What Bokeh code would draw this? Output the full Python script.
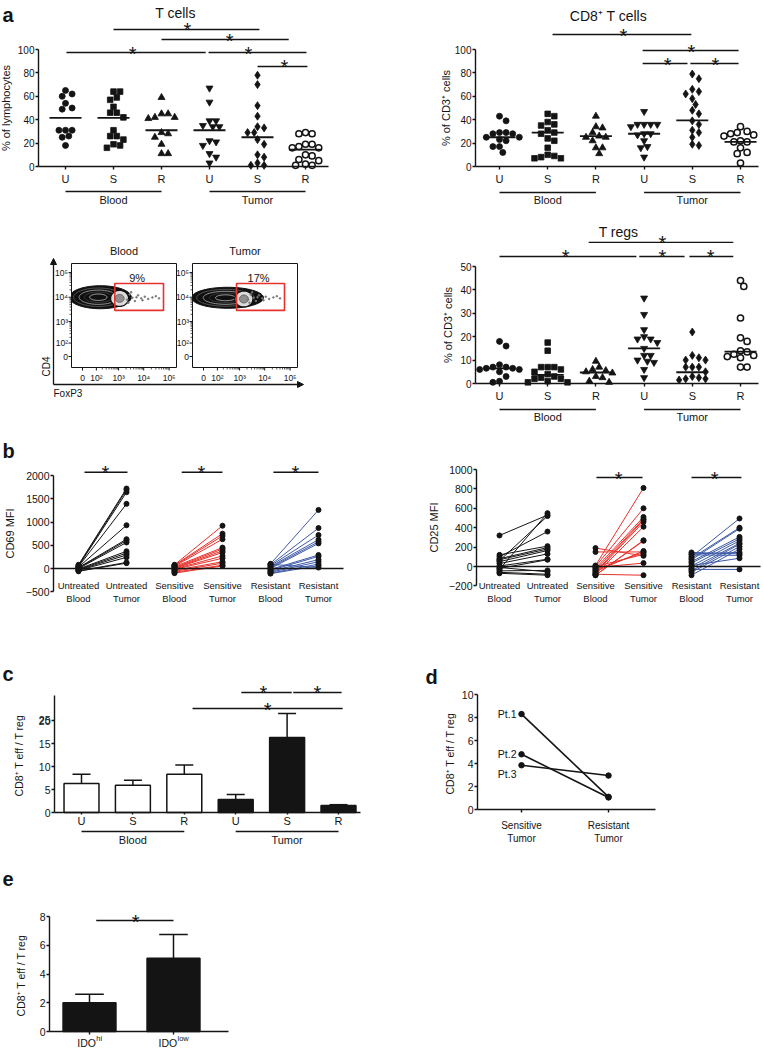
import numpy as np
from bokeh.plotting import figure
from bokeh.models import Range1d, LinearAxis, FixedTicker, Arrow, NormalHead
from bokeh.layouts import row, column
from bokeh.core.properties import value
from bokeh.embed import file_html
from bokeh.resources import INLINE

FONT = "Liberation Sans"
INK = "#141414"
RED = "#e8322c"
BLUE = "#3d5aa8"

# ======================= DATA =======================
a_labels = ["U", "S", "R", "U", "S", "R"]
a_sites = ["Blood", "Tumor"]

tcells_blood_U = [65, 62, 60, 54, 50, 49, 31, 31, 31, 26, 25, 18]
tcells_blood_S = [64, 64, 59, 57, 51, 46, 46, 42, 31, 26, 26, 23, 19, 18, 16]
tcells_blood_R = [59, 45, 45, 42, 42, 41, 29, 28, 25, 19, 11, 11]
tcells_tumor_U = [67, 55, 39, 39, 35, 34, 34, 22, 21, 18, 11, 8, 3]
tcells_tumor_S = [78, 70, 52, 43, 34, 33, 29, 29, 23, 19, 10, 8, 3, 1, 1]
tcells_tumor_R = [29, 28, 28, 19, 19, 17, 16, 16, 10, 9, 6, 5, 2, 1, 1]
tcells_centre = [41.5, 41.5, 31, 31, 25, 14.5]

cd8_blood_U = [43, 39, 29, 29, 28, 28, 25, 25, 23, 22, 17, 17, 12]
cd8_blood_S = [45, 43, 38, 36, 35, 31, 29, 28, 24, 22, 16, 10, 9, 8, 7, 7]
cd8_blood_R = [43, 34, 33, 29, 26, 25, 25, 22, 16, 16, 11]
cd8_tumor_U = [47, 36, 36, 36, 36, 34, 28, 28, 27, 22, 17, 16, 8]
cd8_tumor_S = [79, 75, 66, 64, 62, 58, 53, 48, 45, 39, 36, 31, 29, 25, 19, 18]
cd8_tumor_R = [34, 30, 29, 28, 27, 26, 22, 21, 21, 16, 12, 11, 3]
cd8_centre = [25, 29, 26, 28, 39.5, 21]

treg_blood_U = [18, 16, 8, 7, 7, 6.5, 6.5, 6, 6, 5, 3, 1, 0.5]
treg_blood_S = [17.5, 14, 7, 7, 7, 6, 5, 4, 3, 2.5, 2, 2, 1, 0.5, 0.5]
treg_blood_R = [9.5, 7, 6, 5.5, 5, 4.5, 3, 2.5, 1, 0.5]
treg_tumor_U = [36.5, 29.5, 23, 20, 19, 19, 17.5, 15, 12, 12, 10, 9.5, 9, 6, 2.5]
treg_tumor_S = [22, 12, 11, 10, 10, 7, 7, 7, 5, 3, 2.5, 2, 2, 1.5]
treg_tumor_R = [44, 41.5, 28, 19.5, 18, 14, 13.5, 12.5, 12, 11.5, 11, 7, 7]
treg_centre = [6.5, 3.7, 4.7, 15, 4.8, 13.6]

# flow cytometry example
flow_names = ["Blood", "Tumor"]
flow_tick_values = [0, 1e2, 1e3, 1e4, 1e5]
flow_tick_labels = ["0", "10\u00b2", "10\u00b3", "10\u2074", "10\u2075"]
flow_gate_foxp3 = [(700, 60000), (750, 60000)]
flow_gate_cd4 = [(2900, 36000), (2900, 36000)]
flow_gate_pct = ["9%", "17%"]
flow_main_foxp3 = [160, 310]
flow_main_cd4 = [10000, 9500]
flow_pos_foxp3 = [1100, 1500]
flow_pos_cd4 = [9000, 8500]
flow_dots_foxp3 = [2200, 2800, 3600, 4500, 6000, 8000, 11000, 15000, 22000, 30000, 2500, 3200, 5200, 9000, 40000]
flow_dots_cd4 = [8000, 13000, 9500, 7000, 12000, 9000, 10500, 8500, 9800, 11000, 6000, 16000, 10000, 7500, 9000]

# panel b – paired MFI
b_labels = ["Untreated\nBlood", "Untreated\nTumor", "Sensitive\nBlood",
            "Sensitive\nTumor", "Resistant\nBlood", "Resistant\nTumor"]
cd69_untreated_blood = [80, 60, 50, 40, 30, 20, 10, 0, -10, -20, -30, -40, -50, -60]
cd69_untreated_tumor = [1720, 1690, 1640, 1390, 930, 630, 600, 560, 370, 330, 290, 240, 130, 115]
cd69_sensitive_blood = [80, 70, 60, 50, 40, 20, 10, 0, -10, -20, -40, -60, -80, -100]
cd69_sensitive_tumor = [920, 750, 700, 630, 450, 420, 380, 345, 270, 220, 145, 115, 70, 55]
cd69_resistant_blood = [100, 80, 60, 40, 20, 0, -20, -40, -60, -80, -100, -110, 90]
cd69_resistant_tumor = [1260, 870, 720, 620, 575, 540, 290, 260, 190, 145, 95, 60, 20]

cd25_untreated_blood = [320, -30, 100, 120, 80, 70, 50, 30, 5, -20, -45, -60, -70, -10, 60]
cd25_untreated_tumor = [530, 550, 360, 210, 195, 180, 165, 130, 75, 70, -40, -80, -90, -55, 520]
cd25_sensitive_blood = [190, 150, 10, 0, -20, -40, -60, -70, -80, -90, -90, -50, -30, 0, -10, -80]
cd25_sensitive_tumor = [110, 150, 810, 600, 510, 490, 480, 460, 410, 270, 265, 160, 145, 125, 35, -90]
cd25_resistant_blood = [145, 120, 100, 85, 70, 50, 35, 5, -20, -45, -60, -90, 130, 10, -30]
cd25_resistant_tumor = [130, 115, 495, 400, 390, 305, 285, 265, 240, 230, 205, 180, 145, 85, -30]

# panel c – ratio bars
c_labels = ["U", "S", "R", "U", "S", "R"]
c_mean = [6.3, 5.9, 8.3, 2.8, 16.3, 1.5]
c_sem = [2.0, 1.1, 2.0, 1.1, 5.2, 0.2]

# panel d – paired patients
d_labels = ["Sensitive\nTumor", "Resistant\nTumor"]
d_patients = ["Pt.1", "Pt.2", "Pt.3"]
d_sensitive = [8.3, 4.8, 3.85]
d_resistant = [1.1, 1.05, 2.95]

# panel e – IDO
e_main = ["IDO", "IDO"]
e_sup = ["hi", "low"]
e_mean = [2.0, 5.1]
e_sem = [0.6, 1.65]


# ======================= HELPERS =======================
class Panel:
    """A figure whose canvas sits at (left, top) on the page; calibration
    pairs (data, page pixel) define the linear scales."""
    def __init__(self, left, top, w, h, xcal, ycal):
        (dx1, px1), (dx2, px2) = xcal
        (dy1, py1), (dy2, py2) = ycal
        self.sx = (px2 - px1) / (dx2 - dx1)
        self.sy = (py2 - py1) / (dy2 - dy1)
        self.dx1, self.px1, self.dy1, self.py1 = dx1, px1, dy1, py1
        self.p = figure(width=w, height=h,
                        x_range=Range1d(self.X(left), self.X(left + w)),
                        y_range=Range1d(self.Y(top + h), self.Y(top)),
                        min_border=0, output_backend="svg", toolbar_location=None,
                        x_axis_type=None, y_axis_type=None,
                        outline_line_color=None, background_fill_color="white",
                        border_fill_color="white")

    def X(self, px):
        return self.dx1 + (px - self.px1) / self.sx

    def Y(self, py):
        return self.dy1 + (py - self.py1) / self.sy

    def txt(self, px, py, s, size="11px", align="center", baseline="middle",
            bold=False, angle=0.0, color=INK):
        self.p.text(x=[self.X(px)], y=[self.Y(py)], text=[s], text_font=value(FONT),
                    text_font_size=size, text_align=align, text_baseline=baseline,
                    text_font_style="bold" if bold else "normal", angle=angle,
                    text_color=color)


def style_axis(ax, tick_fs, label_fs):
    ax.axis_line_color = INK
    ax.axis_line_width = 1.4
    ax.major_tick_line_color = INK
    ax.major_tick_line_width = 1.4
    ax.major_tick_in = 0
    ax.major_tick_out = 3
    ax.minor_tick_line_color = None
    ax.major_label_text_font = FONT
    ax.major_label_text_font_size = tick_fs
    ax.major_label_text_color = INK
    ax.axis_label_text_font = FONT
    ax.axis_label_text_font_size = label_fs
    ax.axis_label_text_font_style = "normal"
    ax.axis_label_text_color = INK


def y_axis(P, at_px, lo, hi, ticks, label, tick_fs="10px", label_fs="11px",
           label_standoff=2):
    ax = LinearAxis(fixed_location=float(P.X(at_px)), bounds=(float(lo), float(hi)),
                    ticker=FixedTicker(ticks=ticks, minor_ticks=[]), axis_label=label)
    style_axis(ax, tick_fs, label_fs)
    ax.major_label_standoff = 1
    ax.axis_label_standoff = label_standoff
    P.p.add_layout(ax, "left")
    return ax


def x_axis(P, at_val, lo_px, hi_px, ticks, labels, fs="11px", tick_out=3,
           standoff=3, line=True):
    ax = LinearAxis(fixed_location=float(at_val),
                    bounds=(float(P.X(lo_px)), float(P.X(hi_px))),
                    ticker=FixedTicker(ticks=ticks, minor_ticks=[]),
                    major_label_overrides={int(t): l for t, l in zip(ticks, labels)})
    style_axis(ax, fs, fs)
    ax.major_tick_out = tick_out
    ax.major_label_standoff = standoff
    if not line:
        ax.axis_line_color = None
        ax.major_tick_line_color = None
    P.p.add_layout(ax, "below")
    return ax


def swarm(vals, P, d=6.6):
    ky = abs(P.sy)
    ys = np.asarray(vals, float) * ky
    order = np.argsort(-ys, kind="stable")
    cands = [0.0]
    for k in range(1, 16):
        cands += [k * d / 2, -k * d / 2]
    placed, offs = [], np.zeros(len(ys))
    for i in order:
        for c in cands:
            if all((c - ox) ** 2 + (ys[i] - oy) ** 2 >= (0.92 * d) ** 2 for ox, oy in placed):
                break
        offs[i] = c
        placed.append((c, ys[i]))
    return offs / P.sx


MARKERS = ["circle", "square", "triangle", "inverted_triangle", "diamond", "circle"]
MSIZE = [6, 5.6, 7, 7, 8, 6.2]


def dot_groups(P, groups, centres):
    for i, vals in enumerate(groups):
        xs = (i + 1) + swarm(vals, P)
        open_ = (i == 5)
        P.p.scatter(xs, vals, marker=MARKERS[i], size=MSIZE[i],
                    fill_color="white" if open_ else INK, line_color=INK,
                    line_width=1.5 if open_ else 0.8)
    hw = 16 / P.sx
    cats = np.arange(1, len(groups) + 1)
    P.p.segment(x0=cats - hw, y0=centres, x1=cats + hw, y1=centres,
                line_color=INK, line_width=1.8)


def sig(P, bars, fs="20px"):
    for x0, x1, y, xs in bars:
        P.p.segment(x0=[x0], y0=[y], x1=[x1], y1=[y], line_color=INK, line_width=1.4)
    P.p.text(x=[b[3] for b in bars], y=[b[2] for b in bars], text=["*"] * len(bars),
             text_font=value(FONT), text_font_size=fs, text_align="center",
             text_baseline="alphabetic", y_offset=1, text_color=INK)


def sites(P, line_py, text_py, fs="11px"):
    for (c0, c1), name in zip([(1, 3), (4, 6)], a_sites):
        P.p.segment(x0=[c0], y0=[P.Y(line_py)], x1=[c1], y1=[P.Y(line_py)],
                    line_color=INK, line_width=1.4)
        P.p.text(x=[(c0 + c1) / 2], y=[P.Y(text_py)], text=[name], text_font=value(FONT),
                 text_font_size=fs, text_align="center", text_baseline="middle",
                 text_color=INK)


def paired(P, pairs, colors):
    for k, (bl, tu) in enumerate(pairs):
        x0, x1 = 2 * k + 1, 2 * k + 2
        P.p.segment(x0=[x0] * len(bl), y0=bl, x1=[x1] * len(tu), y1=tu,
                    line_color=colors[k], line_width=1)
    for k, (bl, tu) in enumerate(pairs):
        x0, x1 = 2 * k + 1, 2 * k + 2
        P.p.scatter([x0] * len(bl), bl, size=5, color=INK)
        P.p.scatter([x1] * len(tu), tu, size=5, color=INK)


# ======================= PANELS =======================
# --- a: T cells
TC = Panel(0, 0, 378, 222, ((1, 65), (6, 305)), ((0, 166), (100, 49)))
dot_groups(TC, [tcells_blood_U, tcells_blood_S, tcells_blood_R,
                tcells_tumor_U, tcells_tumor_S, tcells_tumor_R], tcells_centre)
y_axis(TC, 38, 0, 100, [0, 20, 40, 60, 80, 100], "% of lymphocytes", label_standoff=3)
x_axis(TC, 0, 38, 328, [1, 2, 3, 4, 5, 6], a_labels)
sig(TC, [(2.0, 5.04, 117.1, 3.54), (3.0, 5.65, 108.5, 4.42),
         (1.02, 3.92, 97.4, 2.40), (3.98, 6.02, 97.4, 4.81), (5.0, 6.04, 85.5, 5.56)])
sites(TC, 191, 199)
TC.txt(175, 12, "T cells", size="14px", baseline="alphabetic")
TC.txt(2, 14, "a", size="20px", align="left", baseline="alphabetic", bold=True)

# --- a: CD8
CD8 = Panel(378, 0, 385, 212, ((1, 499), (6, 740)), ((0, 166), (100, 49)))
dot_groups(CD8, [cd8_blood_U, cd8_blood_S, cd8_blood_R,
                 cd8_tumor_U, cd8_tumor_S, cd8_tumor_R], cd8_centre)
y_axis(CD8, 475, 0, 100, [0, 20, 40, 60, 80, 100], "% of CD3\u207a cells", label_standoff=0)
x_axis(CD8, 0, 475, 758, [1, 2, 3, 4, 5, 6], a_labels)
sig(CD8, [(2.10, 4.98, 112.8, 3.57), (3.97, 5.96, 99.1, 4.98),
          (3.97, 4.90, 88.0, 4.49), (4.96, 5.96, 88.0, 5.48)])
sites(CD8, 192, 199)
CD8.txt(608, 15, "CD8\u207a T cells", size="14px", baseline="alphabetic")

# --- a: T regs
TR = Panel(378, 212, 385, 213, ((1, 499), (6, 740)), ((0, 383), (50, 266)))
dot_groups(TR, [treg_blood_U, treg_blood_S, treg_blood_R,
                treg_tumor_U, treg_tumor_S, treg_tumor_R], treg_centre)
y_axis(TR, 475, 0, 50, [0, 10, 20, 30, 40, 50], "% of CD3\u207a cells", label_standoff=3)
x_axis(TR, 0, 475, 758, [1, 2, 3, 4, 5, 6], a_labels)
sig(TR, [(2.85, 5.85, 60.3, 4.38), (1.0, 3.84, 54.3, 2.37),
         (3.90, 4.84, 54.3, 4.38), (4.94, 5.85, 54.3, 5.38)])
sites(TR, 409, 416)
TR.txt(618, 231, "T regs", size="14px", baseline="alphabetic")

# --- a: flow cytometry example (page-pixel frame)
FL = Panel(0, 222, 378, 203, ((0, 0), (100, 100)), ((0, 0), (100, 100)))
BOX_L = [71, 192]
BOX_T, BOX_B, BOX_W = 263, 367, 105


def fx(v, i):
    return BOX_L[i] + 11 + 25.5 * np.log10(1 + np.asarray(v, float) / 40)


def fy(v):
    return 356 - 24.7 * np.log10(1 + np.asarray(v, float) / 40)


def ell(cx, cy, rx, ry, clip_left, n=72):
    t = np.linspace(0, 2 * np.pi, n)
    return list(np.maximum(cx + rx * np.cos(t), clip_left)), list(cy + ry * np.sin(t))


minor_vals = [m * 10 ** k for k in range(2, 5) for m in range(2, 10)]
blob_rx = [31, 36]
blob_ry = [11.5, 10.5]
for i in range(2):
    L = BOX_L[i]
    cx, cy = float(fx(flow_main_foxp3[i], i)), float(fy(flow_main_cd4[i]))
    xs, ys = ell(cx, cy, blob_rx[i], blob_ry[i], L + 0.5)
    FL.p.patch(xs, ys, fill_color="#101010", line_color="#101010")
    for sc, col in [(0.80, "#5a5a5a"), (0.62, "#a0a0a0"), (0.45, "#3c3c3c"), (0.28, "#b8b8b8")]:
        xs, ys = ell(cx - 2, cy, blob_rx[i] * sc, blob_ry[i] * sc, L + 0.5)
        FL.p.line(xs, ys, line_color=col, line_width=0.9)
    px_, py_ = float(fx(flow_pos_foxp3[i], i)), float(fy(flow_pos_cd4[i]))
    xs, ys = ell(px_, py_, 9, 8, L + 0.5)
    FL.p.patch(xs, ys, fill_color="#dcdcdc", line_color="#101010", line_width=1.3)
    xs, ys = ell(px_, py_, 4.5, 4, L + 0.5)
    FL.p.patch(xs, ys, fill_color="#8f8f8f", line_color="#505050", line_width=0.8)
    FL.p.scatter(fx(flow_dots_foxp3, i), fy(flow_dots_cd4), size=1.6, color="#777777")
    FL.p.quad(left=[L], right=[L + BOX_W], top=[BOX_T], bottom=[BOX_B],
              fill_color=None, line_color=INK, line_width=1)
    g0, g1 = flow_gate_foxp3[i]
    h0, h1 = flow_gate_cd4[i]
    FL.p.quad(left=[float(fx(g0, i))], right=[float(fx(g1, i))], top=[float(fy(h1))],
              bottom=[float(fy(h0))], fill_color=None, line_color=RED, line_width=1.6)
    FL.txt((float(fx(g0, i)) + float(fx(g1, i))) / 2 - 2, 277, flow_gate_pct[i], size="11px")
    tyv = fy(flow_tick_values)
    txv = fx(flow_tick_values, i)
    FL.p.segment(x0=[L - 3] * 5, y0=tyv, x1=[L] * 5, y1=tyv, line_color=INK, line_width=1)
    FL.p.segment(x0=txv, y0=[BOX_B] * 5, x1=txv, y1=[BOX_B + 3] * 5, line_color=INK, line_width=1)
    myv = fy(minor_vals)
    mxv = fx(minor_vals, i)
    FL.p.segment(x0=[L - 2] * len(myv), y0=myv, x1=[L] * len(myv), y1=myv,
                 line_color=INK, line_width=0.7)
    FL.p.segment(x0=mxv, y0=[BOX_B] * len(mxv), x1=mxv, y1=[BOX_B + 2] * len(mxv),
                 line_color=INK, line_width=0.7)
    FL.p.text(x=[L - 3.5] * 5, y=tyv, text=flow_tick_labels, text_font=value(FONT),
              text_font_size="8.5px", text_align="right", text_baseline="middle",
              text_color=INK)
    FL.p.text(x=txv, y=[377] * 5, text=flow_tick_labels, text_font=value(FONT),
              text_font_size="8.5px", text_align="center", text_baseline="middle",
              text_color=INK)
    FL.txt(L + BOX_W / 2, 250, flow_names[i], size="11px")

FL.p.add_layout(Arrow(end=NormalHead(size=6, fill_color=INK, line_color=INK),
                      x_start=53, y_start=384, x_end=53, y_end=258,
                      line_color=INK, line_width=1.3))
FL.p.add_layout(Arrow(end=NormalHead(size=6, fill_color=INK, line_color=INK),
                      x_start=53, y_start=384, x_end=303, y_end=384,
                      line_color=INK, line_width=1.3))
FL.txt(46, 366, "CD4", size="10px", angle=np.pi / 2)
FL.txt(53, 393, "FoxP3", size="10px", align="left")

# --- b: CD69
B1 = Panel(0, 425, 378, 180, ((1, 78), (6, 318)), ((0, 568), (2000, 475)))
paired(B1, [(cd69_untreated_blood, cd69_untreated_tumor),
            (cd69_sensitive_blood, cd69_sensitive_tumor),
            (cd69_resistant_blood, cd69_resistant_tumor)], [INK, RED, BLUE])
y_axis(B1, 53, -500, 2000, [-500, 0, 500, 1000, 1500, 2000], "CD69 MFI",
       tick_fs="10.5px", label_fs="11px", label_standoff=7)
x_axis(B1, 0, 53, 343, [], [])
x_axis(B1, B1.Y(577), 53, 343, [1, 2, 3, 4, 5, 6], b_labels, fs="9.5px",
       tick_out=0, standoff=2, line=False)
sig(B1, [(1.125, 2.02, 2069, 1.56), (3.15, 4.0, 2069, 3.56), (5.06, 6.0, 2069, 5.52)])
B1.txt(2, 450, "b", size="20px", align="left", baseline="alphabetic", bold=True)

# --- b: CD25
B2 = Panel(378, 425, 385, 180, ((1, 499), (6, 739)), ((0, 566), (1000, 469)))
paired(B2, [(cd25_untreated_blood, cd25_untreated_tumor),
            (cd25_sensitive_blood, cd25_sensitive_tumor),
            (cd25_resistant_blood, cd25_resistant_tumor)], [INK, RED, BLUE])
y_axis(B2, 476, -200, 1000, [-200, 0, 200, 400, 600, 800, 1000], "CD25 MFI",
       tick_fs="10.5px", label_fs="11px", label_standoff=6)
x_axis(B2, 0, 476, 760, [], [])
x_axis(B2, B2.Y(577), 476, 760, [1, 2, 3, 4, 5, 6], b_labels, fs="9.5px",
       tick_out=0, standoff=2, line=False)
sig(B2, [(3.02, 3.98, 917, 3.48), (5.0, 6.04, 917, 5.48)])

# --- c: CD8 Teff / Treg bars
PC = Panel(0, 605, 378, 243, ((1, 81), (6, 338)), ((0, 812), (20, 720)))
cats = np.arange(1, 7)
PC.p.vbar(x=cats, top=c_mean, bottom=0, width=0.68,
          fill_color=["white"] * 3 + [INK] * 3, line_color=INK, line_width=1.5)
tops = np.array(c_mean) + np.array(c_sem)
PC.p.segment(x0=cats, y0=c_mean, x1=cats, y1=tops, line_color=INK, line_width=1.5)
PC.p.segment(x0=cats - 0.175, y0=tops, x1=cats + 0.175, y1=tops, line_color=INK, line_width=1.5)
y_axis(PC, 54, 0, 25.4, [0, 5, 10, 15, 20], "CD8\u207a T eff /  T reg",
       tick_fs="10.5px", label_fs="10.5px", label_standoff=11)
PC.txt(50, 719, "25", size="10.5px", align="right")
x_axis(PC, 0, 54, 360, [1, 2, 3, 4, 5, 6], c_labels, tick_out=2, standoff=0)
sig(PC, [(4.11, 5.09, 26.1, 4.54), (5.12, 6.06, 26.1, 5.59), (3.16, 6.08, 22.6, 4.62)])
sites(PC, 831, 839)
PC.txt(2, 673, "c", size="20px", align="left", baseline="alphabetic", bold=True)

# --- d: paired patients
PD = Panel(378, 605, 385, 243, ((1, 521), (2, 608)), ((0, 809), (10, 694)))
for s_, r_ in zip(d_sensitive, d_resistant):
    PD.p.line([1, 2], [s_, r_], line_color=INK, line_width=1.6)
PD.p.scatter([1] * 3, d_sensitive, size=5.5, color=INK)
PD.p.scatter([2] * 3, d_resistant, size=5.5, color=INK)
PD.p.text(x=[1] * 3, y=d_sensitive, text=d_patients, x_offset=-5, y_offset=[0, 0, 9],
          text_font=value(FONT), text_font_size="10.5px", text_align="right",
          text_baseline="middle", text_color=INK)
y_axis(PD, 477, 0, 10, [0, 2, 4, 6, 8, 10], "CD8\u207a T eff /  T reg",
       tick_fs="10.5px", label_fs="10.5px", label_standoff=3)
x_axis(PD, 0, 477, 655, [1, 2], d_labels, fs="10px", tick_out=3, standoff=7)
PD.txt(425, 676, "d", size="20px", align="left", baseline="alphabetic", bold=True)

# --- e: IDO
PE = Panel(0, 848, 378, 200, ((1, 89), (2, 173)), ((0, 1031), (8, 916)))
ecats = np.array([1, 2])
PE.p.vbar(x=ecats, top=e_mean, bottom=0, width=0.63, fill_color=INK, line_color=INK,
          line_width=1.5)
etops = np.array(e_mean) + np.array(e_sem)
PE.p.segment(x0=ecats, y0=e_mean, x1=ecats, y1=etops, line_color=INK, line_width=1.5)
PE.p.segment(x0=ecats - 0.17, y0=etops, x1=ecats + 0.17, y1=etops, line_color=INK, line_width=1.5)
y_axis(PE, 49, 0, 8, [0, 2, 4, 6, 8], "CD8\u207a T eff /  T reg",
       tick_fs="10.5px", label_fs="10.5px", label_standoff=10)
x_axis(PE, 0, 49, 228, [1, 2], ["", ""], tick_out=3, standoff=0)
CW = {"I": 0.278, "D": 0.722, "O": 0.778, "h": 0.556, "i": 0.222, "l": 0.222,
      "o": 0.556, "w": 0.722}
for k in range(2):
    mw = sum(CW[c] for c in e_main[k]) * 10.5
    sw = sum(CW[c] for c in e_sup[k]) * 7.5
    edge = -(mw + sw) / 2 + mw
    PE.p.text(x=[ecats[k]], y=[PE.Y(1042)], text=[e_main[k]], x_offset=edge,
              text_font=value(FONT), text_font_size="10.5px", text_align="right",
              text_baseline="alphabetic", text_color=INK)
    PE.p.text(x=[ecats[k]], y=[PE.Y(1042)], text=[e_sup[k]], x_offset=edge + 0.3,
              y_offset=-4, text_font=value(FONT), text_font_size="7.5px",
              text_align="left", text_baseline="alphabetic", text_color=INK)
sig(PE, [(1.08, 2.0, 7.72, 1.55)])
PE.txt(2, 878, "e", size="20px", align="left", baseline="alphabetic", bold=True)

layout = column(
    row(column(TC.p, FL.p), column(CD8.p, TR.p)),
    row(B1.p, B2.p),
    row(PC.p, PD.p),
    PE.p,
)

with open("out.html", "w") as f:
    f.write(file_html(layout, INLINE))
